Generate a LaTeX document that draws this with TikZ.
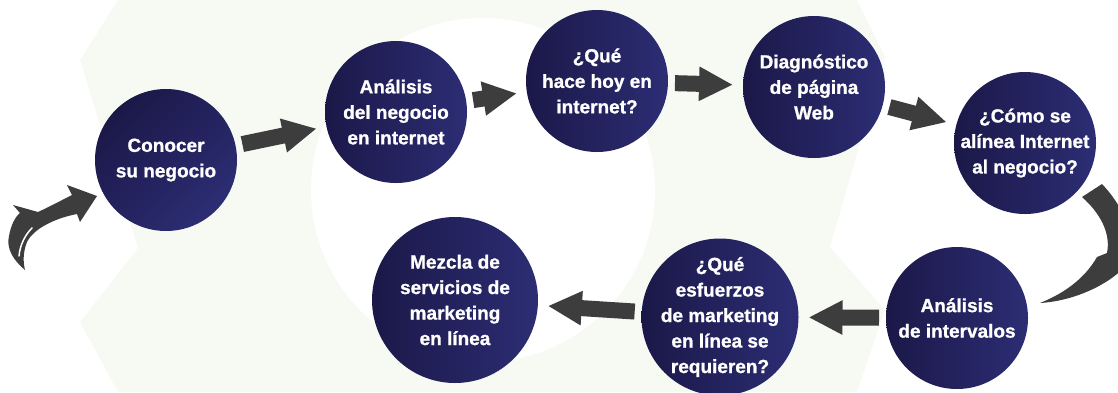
\documentclass[tikz,border=0pt]{standalone}
\usepackage{fontspec}
\setmainfont{Liberation Sans}[BoldFeatures={FakeBold=1}]
\usepackage{tkz-graph}
\usetikzlibrary{arrows.meta}
\definecolor{navyA}{RGB}{27,24,72}
\definecolor{navyB}{RGB}{44,45,116}
\definecolor{arrowgray}{RGB}{61,61,61}
\definecolor{paleback}{RGB}{247,250,243}

\begin{document}
\begin{tikzpicture}[x=1pt,y=-1pt]
\GraphInit[vstyle = Normal]
\tikzset{
  VertexStyle/.style = { shape=circle, inner sep=-20pt, minimum size=142pt,
                         left color=navyA, right color=navyB, text=white,
                         align=center, font=\fontsize{19}{25.5}\selectfont\bfseries},
  EdgeStyle/.style = {draw=arrowgray, line width=16pt,
                      -{Triangle[length=34pt,width=32pt]},
                      shorten <=7pt, shorten >=10pt},
}
  \useasboundingbox (0,0) rectangle (1118,392);
  \clip (0,0) rectangle (1118,392);

  % background
  \fill[paleback] (118,0) -- (80,60) -- (138,248) -- (80,322) -- (118,392)
    -- (857,392) -- (885,310) -- (830,247) -- (885,57) -- (857,0) -- cycle;
  \fill[white] (483,190) circle (172pt);

  \begin{scope}
    \tikzset{VertexStyle/.append style = {shading angle=45}}
    \Vertex[x=166, y=160, L={Conocer\\su negocio}]{C1}
  \end{scope}

  \Vertex[x=396, y=112, L={Análisis\\del negocio\\en internet}]{C2}
  \Vertex[x=597, y=81, L={¿Qué\\hace hoy en\\internet?}]{C3}
  \Vertex[x=814, y=87, L={Diagnóstico\\de página\\Web}]{C4}
  \Vertex[x=1025, y=143, L={¿Cómo se\\alínea Internet\\al negocio?}]{C5}
  \Vertex[x=957, y=318, L={Análisis\\de intervalos}]{C6}

  \begin{scope}
    \tikzset{VertexStyle/.append style = {minimum size=157pt}}
    \Vertex[x=720, y=317, L={¿Qué\\esfuerzos\\de marketing\\en línea se\\requieren?}]{C7}
  \end{scope}
  \begin{scope}
    \tikzset{VertexStyle/.append style = {minimum size=166pt}}
    \Vertex[x=455, y=300, L={Mezcla de\\servicios de\\marketing\\en línea}]{C8}
  \end{scope}

  \Edge(C1)(C2)
  \Edge(C2)(C3)
  \Edge(C3)(C4)
  \Edge(C4)(C5)
  \Edge(C6)(C7)
  \Edge(C7)(C8)

  % curved arrow into the first step
  \begin{scope}[shift={(C1)}]
    \fill[arrowgray] (-153,45) -- (-128,52) .. controls (-115,46) and (-104,40) .. (-94,35)
      -- (-99,25) -- (-69,36) -- (-86,62) -- (-89,54)
      .. controls (-110,58) and (-132,68) .. (-139,82)
      .. controls (-143,92) and (-143,102) .. (-141,110)
      .. controls (-153,100) and (-160,88) .. (-157,76)
      .. controls (-155,65) and (-151,57) .. (-146,53) -- cycle;
    \draw[white, line width=1.5pt, line cap=round] (-147,96) .. controls (-146,85) and (-141,75) .. (-134,68);
  \end{scope}

  % curved arrow from C5 down to C6
  \begin{scope}[shift={(C5)}]
    \fill[arrowgray] (57,54) -- (77,41) .. controls (97,62) and (110,90) .. (107,115)
      .. controls (90,140) and (50,158) .. (15,160)
      .. controls (40,150) and (60,135) .. (72,114) -- (82,110)
      .. controls (86,90) and (75,70) .. (57,54) -- cycle;
  \end{scope}

\end{tikzpicture}
\end{document}
